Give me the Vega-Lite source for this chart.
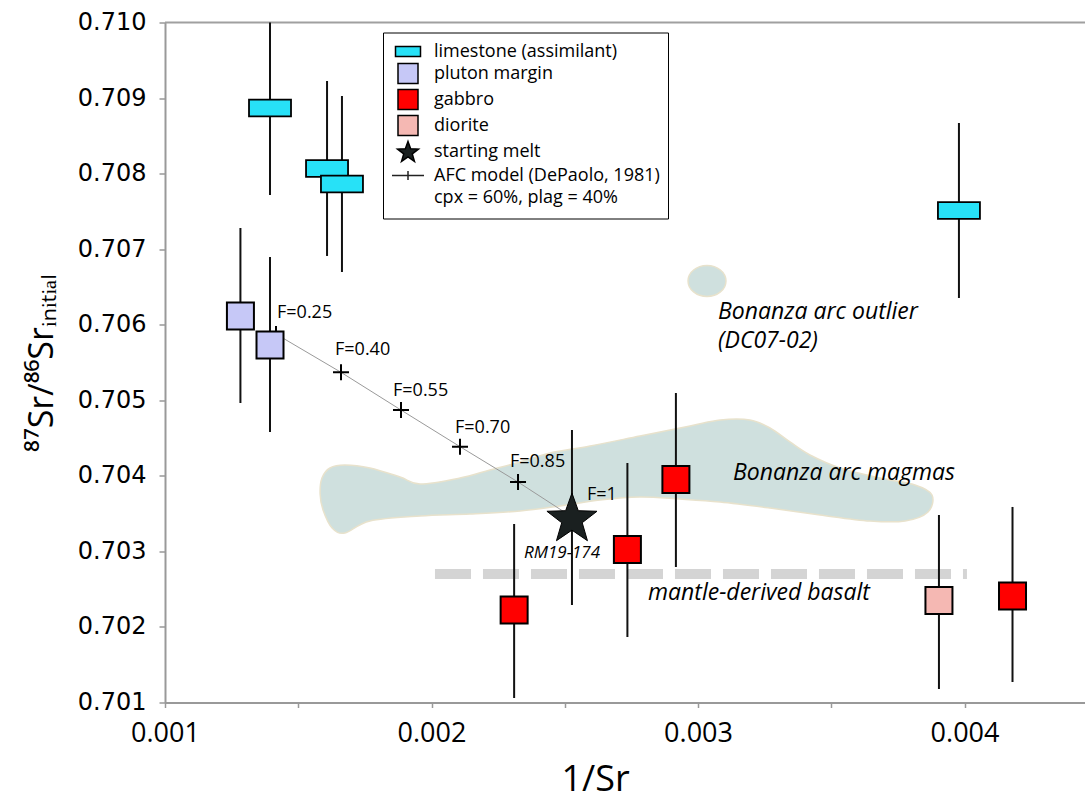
{
  "$schema": "https://vega.github.io/schema/vega-lite/v6.json",
  "width": 920,
  "height": 680,
  "autosize": {"type": "none"},
  "padding": {"left": 165, "top": 22.5, "right": 0, "bottom": 102.5},
  "background": "white",
  "config": {"view": {"stroke": null}, "font": "Open Sans"},
  "datasets": {
    "points": [
      {"group": "limestone (assimilant)", "x": 0.001394, "y": 0.708868, "lo": 0.707717, "hi": 0.71001},
      {"group": "limestone (assimilant)", "x": 0.001608, "y": 0.708068, "lo": 0.706910, "hi": 0.709226},
      {"group": "limestone (assimilant)", "x": 0.001664, "y": 0.707863, "lo": 0.706698, "hi": 0.709027},
      {"group": "limestone (assimilant)", "x": 0.003979, "y": 0.707512, "lo": 0.706354, "hi": 0.708670},
      {"group": "pluton margin", "x": 0.001283, "y": 0.706115, "lo": 0.704964, "hi": 0.707280},
      {"group": "pluton margin", "x": 0.001394, "y": 0.705732, "lo": 0.704580, "hi": 0.706896},
      {"group": "gabbro", "x": 0.002310, "y": 0.702224, "lo": 0.701060, "hi": 0.703363},
      {"group": "gabbro", "x": 0.002735, "y": 0.703025, "lo": 0.701867, "hi": 0.704170},
      {"group": "gabbro", "x": 0.002917, "y": 0.703952, "lo": 0.702793, "hi": 0.705096},
      {"group": "gabbro", "x": 0.004180, "y": 0.702410, "lo": 0.701271, "hi": 0.703588},
      {"group": "diorite", "x": 0.003904, "y": 0.702350, "lo": 0.701179, "hi": 0.703482},
      {"group": "starting melt", "x": 0.002527, "y": 0.703455, "lo": 0.702291, "hi": 0.704607}
    ],
    "afc": [
      {"F": 0.25, "x": 0.0014165, "y": 0.705877},
      {"F": 0.40, "x": 0.0016604, "y": 0.705370},
      {"F": 0.55, "x": 0.0018855, "y": 0.704871},
      {"F": 0.70, "x": 0.0021069, "y": 0.704386},
      {"F": 0.85, "x": 0.0023246, "y": 0.703918},
      {"F": 1.00, "x": 0.0025272, "y": 0.703455}
    ],
    "blob": [
      {"i": 0, "x": 0.001582, "y": 0.703760},
      {"i": 1, "x": 0.001589, "y": 0.703971},
      {"i": 2, "x": 0.001619, "y": 0.704104},
      {"i": 3, "x": 0.001675, "y": 0.704143},
      {"i": 4, "x": 0.001769, "y": 0.704104},
      {"i": 5, "x": 0.001882, "y": 0.703985},
      {"i": 6, "x": 0.001957, "y": 0.703892},
      {"i": 7, "x": 0.002107, "y": 0.703971},
      {"i": 8, "x": 0.002219, "y": 0.704077},
      {"i": 9, "x": 0.002332, "y": 0.704183},
      {"i": 10, "x": 0.002445, "y": 0.704302},
      {"i": 11, "x": 0.002595, "y": 0.704395},
      {"i": 12, "x": 0.002782, "y": 0.704527},
      {"i": 13, "x": 0.002970, "y": 0.704660},
      {"i": 14, "x": 0.003083, "y": 0.704739},
      {"i": 15, "x": 0.003195, "y": 0.704739},
      {"i": 16, "x": 0.003270, "y": 0.704633},
      {"i": 17, "x": 0.003345, "y": 0.704448},
      {"i": 18, "x": 0.003420, "y": 0.704276},
      {"i": 19, "x": 0.003533, "y": 0.704104},
      {"i": 20, "x": 0.003683, "y": 0.703971},
      {"i": 21, "x": 0.003814, "y": 0.703879},
      {"i": 22, "x": 0.003878, "y": 0.703746},
      {"i": 23, "x": 0.003863, "y": 0.703521},
      {"i": 24, "x": 0.003777, "y": 0.703402},
      {"i": 25, "x": 0.003645, "y": 0.703402},
      {"i": 26, "x": 0.003458, "y": 0.703482},
      {"i": 27, "x": 0.003270, "y": 0.703574},
      {"i": 28, "x": 0.003083, "y": 0.703654},
      {"i": 29, "x": 0.002932, "y": 0.703693},
      {"i": 30, "x": 0.002782, "y": 0.703720},
      {"i": 31, "x": 0.002632, "y": 0.703680},
      {"i": 32, "x": 0.002482, "y": 0.703601},
      {"i": 33, "x": 0.002332, "y": 0.703535},
      {"i": 34, "x": 0.002144, "y": 0.703495},
      {"i": 35, "x": 0.001957, "y": 0.703468},
      {"i": 36, "x": 0.001769, "y": 0.703402},
      {"i": 37, "x": 0.001675, "y": 0.703243},
      {"i": 38, "x": 0.001627, "y": 0.703310},
      {"i": 39, "x": 0.001593, "y": 0.703548}
    ],
    "labels": [
      {"t": "F=0.25", "x": 0.0014203, "y": 0.706155, "k": "F"},
      {"t": "F=0.40", "x": 0.0016379, "y": 0.705666, "k": "F"},
      {"t": "F=0.55", "x": 0.0018555, "y": 0.705123, "k": "F"},
      {"t": "F=0.70", "x": 0.0020882, "y": 0.704633, "k": "F"},
      {"t": "F=0.85", "x": 0.0022945, "y": 0.704183, "k": "F"},
      {"t": "F=1", "x": 0.0025835, "y": 0.703746, "k": "F"},
      {"t": "RM19-174", "x": 0.0024897, "y": 0.702979, "k": "rm"},
      {"t": "Bonanza arc magmas", "x": 0.0031313, "y": 0.704038, "k": "it"},
      {"t": "mantle-derived basalt", "x": 0.0028124, "y": 0.702449, "k": "it"},
      {"t": "Bonanza arc outlier", "x": 0.003075, "y": 0.706168, "k": "it"},
      {"t": "(DC07-02)", "x": 0.003075, "y": 0.705785, "k": "it"}
    ]
  },
  "layer": [
    {
      "data": {"name": "blob"},
      "mark": {"type": "line", "interpolate": "cardinal-closed", "fill": "#cfe0de", "stroke": "#e8e2cc", "strokeWidth": 1.5},
      "encoding": {
        "x": {
          "field": "x", "type": "quantitative",
          "scale": {"domain": [0.001, 0.004452], "nice": false, "zero": false},
          "axis": {
            "values": [0.001, 0.0015, 0.002, 0.0025, 0.003, 0.0035, 0.004],
            "format": ".3f",
            "labelExpr": "round(datum.value*10000) % 10 == 0 ? datum.label : ''",
            "labelFont": "Open Sans",
            "labelFontSize": 27, "labelColor": "black", "labelPadding": 13,
            "labelOverlap": false, "labelFlush": false,
            "tickSize": 5, "tickColor": "#999", "tickWidth": 1.5,
            "domainColor": "#999", "domainWidth": 2, "grid": false,
            "title": "1/Sr", "titleFont": "Open Sans", "titleFontSize": 36,
            "titleFontWeight": "normal", "titleColor": "black",
            "titleX": 430, "titleY": 88, "titleBaseline": "alphabetic", "titleAlign": "center"
          }
        },
        "y": {
          "field": "y", "type": "quantitative",
          "scale": {"domain": [0.701, 0.71], "nice": false, "zero": false},
          "axis": {
            "values": [0.701, 0.702, 0.703, 0.704, 0.705, 0.706, 0.707, 0.708, 0.709, 0.71],
            "format": ".3f",
            "labelFont": "DejaVu Sans", "labelFontSize": 24, "labelColor": "black", "labelPadding": 13,
            "labelOverlap": false,
            "tickSize": 6, "tickColor": "#999", "tickWidth": 1.5,
            "domainColor": "#999", "domainWidth": 2, "grid": false,
            "title": "⁸⁷Sr/⁸⁶Srᵢₙᵢₜᵢₐₗ", "titleFont": "Open Sans", "titleFontSize": 34,
            "titleFontWeight": "normal", "titleColor": "black", "titlePadding": 18
          }
        },
        "order": {"field": "i", "type": "quantitative"}
      }
    },
    {
      "data": {"values": [{"x": 0.0030337, "y": 0.706579}]},
      "mark": {"type": "point", "filled": true, "opacity": 1, "shape": "M-1.1,0A1.1,0.9 0 1,0 1.1,0A1.1,0.9 0 1,0 -1.1,0Z", "size": 1190, "fill": "#cfe0de", "stroke": "#e8e2cc", "strokeWidth": 1.5},
      "encoding": {
        "x": {"field": "x", "type": "quantitative"},
        "y": {"field": "y", "type": "quantitative"}
      }
    },
    {
      "data": {"values": [{"x": 0.002013, "x2": 0.004009, "y": 0.702701}]},
      "mark": {"type": "rule", "color": "#d4d4d4", "strokeWidth": 10, "strokeDash": [36, 12], "strokeCap": "butt"},
      "encoding": {
        "x": {"field": "x", "type": "quantitative"},
        "x2": {"field": "x2"},
        "y": {"field": "y", "type": "quantitative"}
      }
    },
    {
      "data": {"values": [{"y": 0.71}]},
      "mark": {"type": "rule", "color": "#a0a0a0", "strokeWidth": 2},
      "encoding": {"y": {"field": "y", "type": "quantitative"}}
    },
    {
      "data": {"name": "points"},
      "mark": {"type": "rule", "color": "#111", "strokeWidth": 2, "clip": true},
      "encoding": {
        "x": {"field": "x", "type": "quantitative"},
        "y": {"field": "lo", "type": "quantitative"},
        "y2": {"field": "hi"}
      }
    },
    {
      "data": {"name": "afc"},
      "mark": {"type": "line", "color": "#9a9a9a", "strokeWidth": 1},
      "encoding": {
        "x": {"field": "x", "type": "quantitative"},
        "y": {"field": "y", "type": "quantitative"},
        "order": {"field": "F", "type": "quantitative"}
      }
    },
    {
      "data": {"name": "afc"},
      "transform": [{"filter": "datum.F < 1"}],
      "mark": {"type": "point", "shape": "M-1,0H1M0,-1V1", "size": 256, "filled": false, "stroke": "black", "strokeWidth": 2, "opacity": 1},
      "encoding": {
        "x": {"field": "x", "type": "quantitative"},
        "y": {"field": "y", "type": "quantitative"}
      }
    },
    {
      "data": {"name": "points"},
      "transform": [{"filter": "datum.group == 'limestone (assimilant)'"}],
      "mark": {"type": "point", "filled": true, "opacity": 1, "size": 1129, "strokeWidth": 1.8},
      "encoding": {
        "x": {"field": "x", "type": "quantitative"},
        "y": {"field": "y", "type": "quantitative"},
        "fill": {
          "field": "group", "type": "nominal",
          "scale": {
            "domain": ["limestone (assimilant)", "pluton margin", "gabbro", "diorite", "starting melt", "AFC model (DePaolo, 1981)", "cpx = 60%, plag = 40%"],
            "range": ["#27e1f7", "#c6c8f7", "#ff0000", "#f5b8b3", "#1a2020", "transparent", "transparent"]
          },
          "legend": {
            "title": null, "orient": "none", "legendX": 218, "legendY": 10,
            "padding": 8, "strokeColor": "black", "fillColor": "white",
            "labelFont": "Open Sans", "labelFontSize": 18, "labelColor": "black", "labelLimit": 400,
            "rowPadding": 0, "labelOffset": 15, "symbolOffset": 6, "symbolSize": 400,
            "symbolStrokeWidth": 1.5,
            "encode": {"legend": {"update": {"strokeWidth": {"value": 2}}}}
          }
        },
        "stroke": {
          "field": "group", "type": "nominal",
          "scale": {
            "domain": ["limestone (assimilant)", "pluton margin", "gabbro", "diorite", "starting melt", "AFC model (DePaolo, 1981)", "cpx = 60%, plag = 40%"],
            "range": ["black", "black", "black", "black", "black", "#222222", "transparent"]
          },
          "legend": {
            "title": null, "orient": "none", "legendX": 218, "legendY": 10,
            "padding": 8, "strokeColor": "black", "fillColor": "white",
            "labelFont": "Open Sans", "labelFontSize": 18, "labelColor": "black", "labelLimit": 400,
            "rowPadding": 0, "labelOffset": 15, "symbolOffset": 6, "symbolSize": 400,
            "symbolStrokeWidth": 1.5,
            "encode": {"legend": {"update": {"strokeWidth": {"value": 2}}}}
          }
        },
        "shape": {
          "field": "group", "type": "nominal",
          "scale": {
            "domain": ["limestone (assimilant)", "pluton margin", "gabbro", "diorite", "starting melt", "AFC model (DePaolo, 1981)", "cpx = 60%, plag = 40%"],
            "range": ["M-1.25,-0.5H1.25V0.5H-1.25Z", "square", "square", "square", "M0,-1.0L0.2645,-0.264L1.046,-0.24L0.428,0.239L0.647,0.99L0,0.55L-0.647,0.99L-0.428,0.239L-1.046,-0.24L-0.2645,-0.264Z", "M-1.6,0H1.6M0,-0.45V0.45", "square"]
          },
          "legend": {
            "title": null, "orient": "none", "legendX": 218, "legendY": 10,
            "padding": 8, "strokeColor": "black", "fillColor": "white",
            "labelFont": "Open Sans", "labelFontSize": 18, "labelColor": "black", "labelLimit": 400,
            "rowPadding": 0, "labelOffset": 15, "symbolOffset": 6, "symbolSize": 400,
            "symbolStrokeWidth": 1.5,
            "encode": {"legend": {"update": {"strokeWidth": {"value": 2}}}}
          }
        }
      }
    },
    {
      "data": {"name": "points"},
      "transform": [{"filter": "datum.group == 'pluton margin' || datum.group == 'gabbro' || datum.group == 'diorite'"}],
      "mark": {"type": "point", "filled": true, "opacity": 1, "size": 729, "strokeWidth": 2},
      "encoding": {
        "x": {"field": "x", "type": "quantitative"},
        "y": {"field": "y", "type": "quantitative"},
        "fill": {"field": "group", "type": "nominal"},
        "stroke": {"field": "group", "type": "nominal"},
        "shape": {"field": "group", "type": "nominal"}
      }
    },
    {
      "data": {"name": "points"},
      "transform": [{"filter": "datum.group == 'starting melt'"}],
      "mark": {"type": "point", "filled": true, "opacity": 1, "size": 2290, "strokeWidth": 1},
      "encoding": {
        "x": {"field": "x", "type": "quantitative"},
        "y": {"field": "y", "type": "quantitative"},
        "fill": {"field": "group", "type": "nominal"},
        "stroke": {"field": "group", "type": "nominal"},
        "shape": {"field": "group", "type": "nominal"}
      }
    },
    {
      "data": {"name": "labels"},
      "transform": [{"filter": "datum.k == 'F'"}],
      "mark": {"type": "text", "align": "left", "baseline": "middle", "font": "Open Sans", "fontSize": 18, "color": "black"},
      "encoding": {
        "x": {"field": "x", "type": "quantitative"},
        "y": {"field": "y", "type": "quantitative"},
        "text": {"field": "t"}
      }
    },
    {
      "data": {"name": "labels"},
      "transform": [{"filter": "datum.k == 'rm'"}],
      "mark": {"type": "text", "align": "center", "baseline": "middle", "font": "Open Sans", "fontStyle": "italic", "fontSize": 17, "color": "black"},
      "encoding": {
        "x": {"field": "x", "type": "quantitative"},
        "y": {"field": "y", "type": "quantitative"},
        "text": {"field": "t"}
      }
    },
    {
      "data": {"name": "labels"},
      "transform": [{"filter": "datum.k == 'it'"}],
      "mark": {"type": "text", "align": "left", "baseline": "middle", "font": "Open Sans", "fontStyle": "italic", "fontSize": 23, "color": "black"},
      "encoding": {
        "x": {"field": "x", "type": "quantitative"},
        "y": {"field": "y", "type": "quantitative"},
        "text": {"field": "t"}
      }
    }
  ]
}
